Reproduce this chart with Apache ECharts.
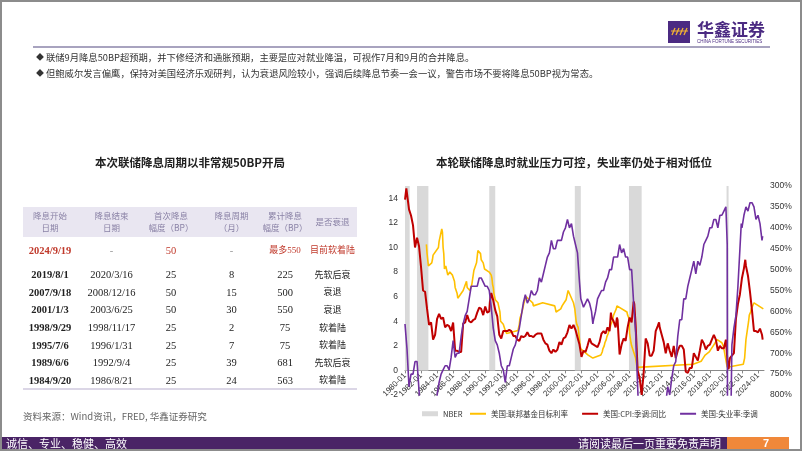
<!DOCTYPE html>
<html><head><meta charset="utf-8">
<script src="https://cdn.jsdelivr.net/npm/echarts@6/dist/echarts.min.js"></script>
<style>html,body{margin:0;padding:0;background:#fff}#c{width:802px;height:451px}</style>
</head><body><div id="c"></div>
<script>
// ---------------- text content ----------------
const bullets = [
  '联储9月降息50BP超预期，并下修经济和通胀预期，主要是应对就业降温，可视作7月和9月的合并降息。',
  '但鲍威尔发言偏鹰，保持对美国经济乐观研判，认为衰退风险较小，强调后续降息节奏一会一议，警告市场不要将降息50BP视为常态。'
];
const leftTitle = '本次联储降息周期以非常规50BP开局';
const rightTitle = '本轮联储降息时就业压力可控，失业率仍处于相对低位';
const sourceText = '资料来源：Wind资讯，FRED, 华鑫证券研究';
const footerLeft = '诚信、专业、稳健、高效';
const footerRight = '请阅读最后一页重要免责声明';
const pageNo = '7';

// ---------------- table ----------------
const tableHeaders = ['降息开始\n日期', '降息结束\n日期', '首次降息\n幅度（BP）', '降息周期\n（月）', '累计降息\n幅度（BP）', '是否衰退'];
const cutStart = ['2024/9/19','2019/8/1','2007/9/18','2001/1/3','1998/9/29','1995/7/6','1989/6/6','1984/9/20'];
const cutEnd = ['-','2020/3/16','2008/12/16','2003/6/25','1998/11/17','1996/1/31','1992/9/4','1986/8/21'];
const firstCut = ['50','25','50','50','25','25','25','25'];
const cycleMonths = ['-','8','15','30','2','7','39','24'];
const totalCut = ['最多550','225','500','550','75','75','681','563'];
const recession = ['目前软着陆','先软后衰','衰退','衰退','软着陆','软着陆','先软后衰','软着陆'];

// ---------------- chart data ----------------
const xTickLabels = ['1980-01','1982-01','1984-01','1986-01','1988-01','1990-01','1992-01','1994-01','1996-01','1998-01','2000-01','2002-01','2004-01','2006-01','2008-01','2010-01','2012-01','2014-01','2016-01','2018-01','2020-01','2022-01','2024-01'];
const nberPeriods = [['1980-01','1980-07'],['1981-07','1982-11'],['1990-07','1991-03'],['2001-03','2001-11'],['2007-12','2009-06'],['2020-02','2020-04']];
const seriesNames = ['NBER','美国:联邦基金目标利率','美国:CPI:季调:同比','美国:失业率:季调'];

// Fed funds target rate (change points)
const fedTarget = [['1982-09',10.25],['1982-10',9.5],['1982-11',9.0],['1982-12',8.5],['1983-05',8.75],['1983-06',9.0],['1983-07',9.375],['1983-08',9.5],['1984-03',10.0],['1984-04',10.5],['1984-06',11.0],['1984-08',11.5],['1984-09',11.25],['1984-10',10.0],['1984-11',9.5],['1984-12',8.25],['1985-02',8.5],['1985-05',7.75],['1985-08',8.0],['1985-12',7.75],['1986-03',7.25],['1986-04',6.75],['1986-07',6.25],['1986-08',5.875],['1987-04',6.5],['1987-09',7.25],['1987-10',6.75],['1988-02',6.5],['1988-05',7.0],['1988-08',8.125],['1988-12',8.75],['1989-02',9.75],['1989-06',9.5],['1989-07',9.0],['1989-10',8.75],['1989-12',8.25],['1990-07',8.0],['1990-10',7.75],['1990-11',7.5],['1990-12',7.0],['1991-01',6.75],['1991-02',6.25],['1991-03',6.0],['1991-04',5.75],['1991-08',5.5],['1991-09',5.25],['1991-10',5.0],['1991-11',4.75],['1991-12',4.0],['1992-04',3.75],['1992-07',3.25],['1992-09',3.0],['1994-02',3.25],['1994-03',3.5],['1994-04',3.75],['1994-05',4.25],['1994-08',4.75],['1994-11',5.5],['1995-02',6.0],['1995-07',5.75],['1995-12',5.5],['1996-01',5.25],['1997-03',5.5],['1998-09',5.25],['1998-10',5.0],['1998-11',4.75],['1999-06',5.0],['1999-08',5.25],['1999-11',5.5],['2000-02',5.75],['2000-03',6.0],['2000-05',6.5],['2001-01',5.5],['2001-03',5.0],['2001-04',4.5],['2001-05',4.0],['2001-06',3.75],['2001-08',3.5],['2001-09',3.0],['2001-10',2.5],['2001-11',2.0],['2001-12',1.75],['2002-11',1.25],['2003-06',1.0],['2004-06',1.25],['2004-08',1.5],['2004-09',1.75],['2004-11',2.0],['2004-12',2.25],['2005-02',2.5],['2005-03',2.75],['2005-05',3.0],['2005-06',3.25],['2005-08',3.5],['2005-09',3.75],['2005-11',4.0],['2005-12',4.25],['2006-01',4.5],['2006-03',4.75],['2006-05',5.0],['2006-06',5.25],['2007-09',4.75],['2007-10',4.5],['2007-12',4.25],['2008-01',3.0],['2008-03',2.25],['2008-04',2.0],['2008-10',1.0],['2008-12',0.25],['2015-12',0.5],['2016-12',0.75],['2017-03',1.0],['2017-06',1.25],['2017-12',1.5],['2018-03',1.75],['2018-06',2.0],['2018-09',2.25],['2018-12',2.5],['2019-07',2.25],['2019-09',2.0],['2019-10',1.75],['2020-03',0.25],['2022-03',0.5],['2022-05',1.0],['2022-06',1.75],['2022-07',2.5],['2022-09',3.25],['2022-11',4.0],['2022-12',4.5],['2023-02',4.75],['2023-03',5.0],['2023-05',5.25],['2023-07',5.5],['2024-09',5.0]];

// CPI YoY, quarterly readings (Jan, Apr, Jul, Oct) per year from 1980
const cpiStartYear = 1980;
const cpiQuarterly = [
  [13.9,14.7,13.1,12.6],[11.8,10.0,10.8,10.1],[8.4,6.5,6.4,5.0],[3.7,3.9,2.5,2.9],[4.2,4.6,4.2,4.3],
  [3.5,3.7,3.6,3.2],[3.9,1.6,1.6,1.5],[1.5,3.8,3.9,4.5],[4.0,3.9,4.1,4.2],[4.7,5.1,5.0,4.5],
  [5.2,4.7,4.8,6.3],[5.7,4.9,4.4,2.9],[2.6,3.2,3.2,3.2],[3.3,3.2,2.8,2.8],[2.5,2.4,2.8,2.7],
  [2.8,3.1,2.8,2.8],[2.7,2.9,3.0,3.0],[3.0,2.5,2.2,2.1],[1.6,1.4,1.7,1.5],[1.7,2.3,2.1,2.6],
  [2.7,3.1,3.7,3.4],[3.7,3.3,2.7,2.1],[1.1,1.6,1.5,2.0],[2.6,2.2,2.1,2.0],[1.9,2.3,3.0,3.2],
  [3.0,3.5,3.2,4.3],[4.0,3.5,4.1,1.3],[2.1,2.6,2.4,3.5],[4.3,3.9,5.6,3.7],[0.0,-0.6,-2.0,-0.2],
  [2.6,2.2,1.2,1.2],[1.6,3.2,3.6,3.5],[2.9,2.3,1.4,2.2],[1.6,1.1,2.0,1.0],[1.6,2.0,2.0,1.7],
  [-0.1,-0.2,0.2,0.2],[1.4,1.1,0.8,1.6],[2.5,2.2,1.7,2.0],[2.1,2.5,2.9,2.5],[1.6,2.0,1.8,1.8],
  [2.5,0.3,1.0,1.2],[1.4,4.2,5.4,6.2],[7.5,8.3,8.5,7.7],[6.4,4.9,3.2,3.2],[3.1,3.4,2.9]
];
const cpiExtra = [['1980-03',14.8],['1990-08',5.6],['2005-09',4.7],['2006-06',4.3],['2008-08',5.4],['2011-09',3.9],['2020-05',0.1],['2022-06',9.0],['2024-08',2.5]];

// Unemployment rate, quarterly readings (Jan, Apr, Jul, Oct) per year from 1980
const unempStartYear = 1980;
const unempQuarterly = [
  [6.3,6.9,7.8,7.5],[7.5,7.2,7.2,7.9],[8.6,9.3,9.8,10.4],[10.4,10.2,9.4,8.8],[8.0,7.7,7.5,7.4],
  [7.3,7.3,7.4,7.1],[6.7,7.1,7.0,7.0],[6.6,6.3,6.1,6.0],[5.7,5.4,5.4,5.4],[5.4,5.2,5.2,5.3],
  [5.4,5.4,5.5,5.9],[6.4,6.7,6.8,7.0],[7.3,7.4,7.7,7.3],[7.3,7.1,6.9,6.8],[6.6,6.4,6.1,5.8],
  [5.6,5.8,5.7,5.5],[5.6,5.6,5.5,5.2],[5.3,5.1,4.9,4.7],[4.6,4.3,4.5,4.5],[4.3,4.3,4.3,4.1],
  [4.0,3.8,4.0,3.9],[4.2,4.4,4.6,5.3],[5.7,5.9,5.8,5.7],[5.8,6.0,6.2,6.0],[5.7,5.6,5.5,5.5],
  [5.3,5.2,5.0,5.0],[4.7,4.7,4.7,4.4],[4.6,4.5,4.7,4.7],[5.0,5.0,5.8,6.5],[7.8,9.0,9.5,10.0],
  [9.8,9.9,9.4,9.4],[9.1,9.1,9.0,8.8],[8.3,8.2,8.2,7.8],[8.0,7.6,7.3,7.2],[6.6,6.2,6.2,5.7],
  [5.7,5.4,5.2,5.0],[4.8,5.1,4.8,4.9],[4.7,4.4,4.3,4.2],[4.0,4.0,3.8,3.8],[4.0,3.7,3.7,3.6],
  [3.5,14.8,10.2,6.8],[6.4,6.1,5.4,4.5],[4.0,3.7,3.5,3.6],[3.4,3.4,3.5,3.8],[3.7,3.9,4.3]
];
const unempExtra = [['1982-11',10.8],['2001-12',5.7],['2003-06',6.3],['2020-02',3.5],['2020-03',4.4],['2020-06',11.0],['2021-12',3.9],['2023-04',3.4],['2024-08',4.2]];

// ---------------- helpers ----------------
const toX = s => { const p = s.split('-').map(Number); return p[0] + (p[1] - 1) / 12; };
function buildSeries(startYear, quarterly, extra) {
  const pts = [];
  quarterly.forEach((vals, i) => vals.forEach((v, q) => pts.push([startYear + i + q * 0.25, v])));
  extra.forEach(([d, v]) => pts.push([toX(d), v]));
  pts.sort((a, b) => a[0] - b[0]);
  return pts;
}
const fedData = fedTarget.map(([d, v]) => [toX(d), v]);
const cpiData = buildSeries(cpiStartYear, cpiQuarterly, cpiExtra);
const unempData = buildSeries(unempStartYear, unempQuarterly, unempExtra);

const CJK = '"Noto Sans CJK SC", "Noto Sans", sans-serif';
const SERIF = '"Liberation Serif", "Noto Sans CJK SC", serif';
const RED = '#c0392b';
const hasCJK = s => /[\u4e00-\u9fff]/.test(s);

// ---------------- graphics ----------------
const g = [];
function txt(x, y, text, size, color, opts) {
  opts = opts || {};
  g.push({ type: 'text', x: x, y: y, z: 10, style: {
    text: text, fill: color, font: (opts.weight || 'normal') + ' ' + size + 'px ' + (opts.family || CJK),
    align: opts.align || 'left', verticalAlign: 'middle', textAlign: opts.align || 'left', textVerticalAlign: 'middle',
    lineHeight: opts.lineHeight || size * 1.2 } });
}
// page frame
g.push({ type: 'rect', shape: { x: 1, y: 1, width: 800, height: 449 }, style: { fill: 'none', stroke: '#8c8c8c', lineWidth: 2 }, z: 1 });
// logo
g.push({ type: 'rect', shape: { x: 668, y: 21, width: 22, height: 22 }, style: { fill: '#4b2a82' } });
[672, 676, 680, 684].forEach(xx => g.push({ type: 'line', shape: { x1: xx, y1: 35, x2: xx + 3, y2: 28 }, style: { stroke: '#f2b233', lineWidth: 1.3 } }));
g.push({ type: 'line', shape: { x1: 671, y1: 31, x2: 688, y2: 31 }, style: { stroke: '#f2b233', lineWidth: 1 } });
txt(697, 30, '华鑫证券', 17, '#4b2a82', { weight: 'bold' });
txt(697, 42, 'CHINA FORTUNE SECURITIES', 4.5, '#4b2a82', { family: '"Liberation Sans", sans-serif' });
// separator
g.push({ type: 'line', shape: { x1: 33, y1: 47, x2: 770, y2: 47 }, style: { stroke: '#a8a3bf', lineWidth: 2 } });
// bullets
bullets.forEach((b, i) => {
  txt(36, 57 + i * 16, '◆', 8, '#333');
  txt(46, 57 + i * 16, b, 9.3, '#333');
});
// titles
txt(190, 163, leftTitle, 11.5, '#222', { weight: 'bold', align: 'center' });
txt(574, 163, rightTitle, 11.5, '#222', { weight: 'bold', align: 'center' });
// table
const colX = [50, 111.5, 171, 231.5, 285, 332.5];
g.push({ type: 'rect', shape: { x: 23, y: 207, width: 334, height: 30 }, style: { fill: '#e9e6f1' } });
tableHeaders.forEach((h, c) => txt(colX[c], 221.5, h, 8.5, '#8a82a6', { align: 'center', lineHeight: 11.6 }));
const cols = [cutStart, cutEnd, firstCut, cycleMonths, totalCut, recession];
cutStart.forEach((_, r) => {
  const y = r === 0 ? 251 : 275.5 + (r - 1) * 17.6;
  cols.forEach((col, c) => {
    const v = col[r];
    let color = '#222';
    if (r === 0) color = (v === '-') ? '#999' : RED;
    const weight = c === 0 ? 'bold' : 'normal';
    txt(colX[c], y, v, hasCJK(v) ? 9 : 10.5, color, { align: 'center', weight: weight, family: SERIF });
  });
});
g.push({ type: 'line', shape: { x1: 23, y1: 389, x2: 357, y2: 389 }, style: { stroke: '#cfc9de', lineWidth: 1.5 } });
txt(23, 416, sourceText, 9.5, '#666');
// footer
g.push({ type: 'rect', shape: { x: 0, y: 437, width: 727, height: 14 }, style: { fill: '#4a2466' } });
g.push({ type: 'rect', shape: { x: 727, y: 437, width: 62, height: 14 }, style: { fill: '#f0883a' } });
txt(6, 444, footerLeft, 11, '#fff');
txt(721, 444, footerRight, 11, '#fff', { align: 'right' });
txt(766, 444, pageNo, 11, '#fff', { align: 'center', weight: 'bold', family: '"Liberation Sans", sans-serif' });

// ---------------- chart ----------------
// grid 0 = full plot area (-2..15 on the left axis); grid 1 = same width, bottom on the zero line, carries the visible date axis
const X_MIN = 1980, X_MAX = 2024.75;
const chart = echarts.init(document.getElementById('c'), null, { renderer: 'canvas' });
const axisFont = { fontFamily: '"Liberation Sans", Arial, sans-serif', fontSize: 8, color: '#333' };
const legendText = { fontFamily: CJK, fontSize: 7.5, color: '#333' };
chart.setOption({
  animation: false,
  backgroundColor: '#fff',
  graphic: { elements: g },
  grid: [
    { left: 405, right: 38, top: 186, bottom: 56, containLabel: false },
    { left: 405, right: 38, top: 186, bottom: 451 - 370.4, containLabel: false }
  ],
  legend: [
    { left: 417, top: 405, itemWidth: 16, itemHeight: 5, textStyle: legendText,
      data: [{ name: seriesNames[0], icon: 'rect' }] },
    { left: 465, top: 405, width: 330, itemWidth: 16, itemHeight: 2, itemGap: 14, textStyle: legendText,
      data: seriesNames.slice(1).map(n => ({ name: n, icon: 'rect' })) }
  ],
  xAxis: [
    { type: 'value', gridIndex: 0, min: X_MIN, max: X_MAX, interval: 2, show: false },
    { type: 'value', gridIndex: 1, min: X_MIN, max: X_MAX, interval: 2, position: 'bottom',
      axisLine: { onZero: false, lineStyle: { color: '#888', width: 1 } },
      axisTick: { show: true, length: 3, lineStyle: { color: '#888' } },
      splitLine: { show: false },
      axisLabel: Object.assign({ rotate: 45, margin: 4, showMaxLabel: false, showMinLabel: true,
        formatter: v => { const i = Math.round((v - X_MIN) / 2); return (Math.abs(v - X_MIN - i * 2) < 1e-6 && xTickLabels[i]) ? xTickLabels[i] : ''; } }, axisFont) }
  ],
  yAxis: [
    { type: 'value', gridIndex: 0, min: -2, max: 15, interval: 2, axisLine: { show: false }, axisTick: { show: false }, splitLine: { show: false },
      axisLabel: Object.assign({ margin: 7, showMaxLabel: false }, axisFont, { fontSize: 8.5 }) },
    { type: 'value', gridIndex: 0, min: 3, max: 8, interval: 0.5, inverse: true, position: 'right',
      axisLine: { show: false }, axisTick: { show: false }, splitLine: { show: false },
      axisLabel: Object.assign({ margin: 6, formatter: v => Math.round(v * 100) + '%' }, axisFont, { fontSize: 8.5 }) },
    { type: 'value', gridIndex: 1, min: 0, max: 15, show: false }
  ],
  series: [
    { name: seriesNames[0], type: 'line', data: [], symbol: 'none', xAxisIndex: 0, yAxisIndex: 0,
      itemStyle: { color: '#d9d9d9' }, lineStyle: { color: '#d9d9d9' },
      markArea: { silent: true, itemStyle: { color: '#d9d9d9' },
        data: nberPeriods.map(([a, b]) => [{ xAxis: toX(a), yAxis: 0 }, { xAxis: toX(b) + 1 / 12, yAxis: 15 }]) } },
    { name: seriesNames[1], type: 'line', data: fedData, symbol: 'none', xAxisIndex: 0, yAxisIndex: 0,
      itemStyle: { color: '#ffc000' }, lineStyle: { color: '#ffc000', width: 1.6 }, z: 3 },
    { name: seriesNames[2], type: 'line', data: cpiData, symbol: 'none', xAxisIndex: 0, yAxisIndex: 0,
      itemStyle: { color: '#c00000' }, lineStyle: { color: '#c00000', width: 2 }, z: 4 },
    { name: seriesNames[3], type: 'line', data: unempData, symbol: 'none', xAxisIndex: 0, yAxisIndex: 1, clip: true,
      itemStyle: { color: '#7030a0' }, lineStyle: { color: '#7030a0', width: 1.6 }, z: 5 }
  ]
});
</script>
</body></html>
